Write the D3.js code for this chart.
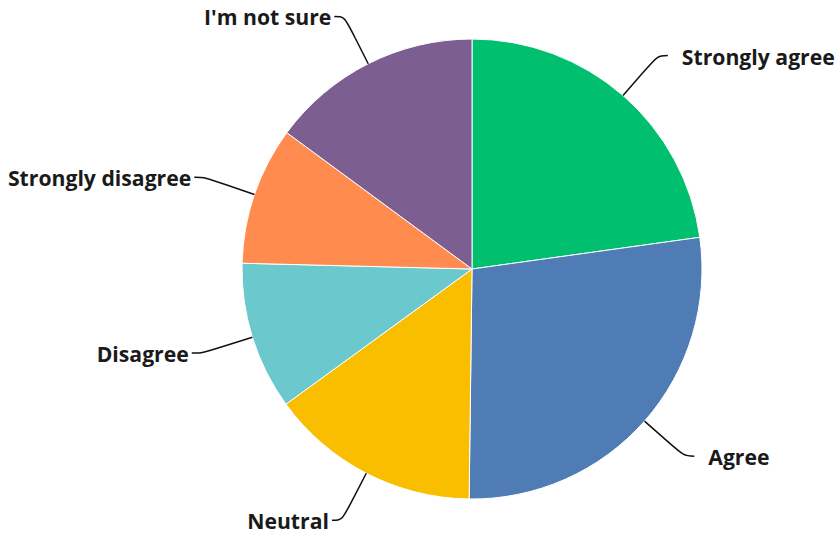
<!DOCTYPE html>
<html>
<head>
<meta charset="utf-8">
<script src="https://cdn.jsdelivr.net/npm/d3@7"></script>
<style>
  html, body { margin: 0; padding: 0; background: #fff; }
  svg { display: block; }
  .label { font-family: "Open Sans", "Noto Sans", sans-serif; font-weight: 700; font-size: 21.2px; fill: #1a1a1a; }
</style>
</head>
<body>
<svg id="chart" width="840" height="537"></svg>
<script>
// Survey answers (percent of responses), clockwise from 12 o'clock
const categories = ["Strongly agree", "Agree", "Neutral", "Disagree", "Strongly disagree", "I'm not sure"];
const values = [22.8, 27.4, 14.8, 10.4, 9.7, 14.9];
const colors = ["#00BF6F", "#507CB6", "#F9BE00", "#6BC8CD", "#FF8B4F", "#7D5E90"];

const width = 840, height = 537;
const cx = 472, cy = 269, radius = 230;
const labelRadius = 283;

const svg = d3.select("#chart");
const g = svg.append("g").attr("transform", `translate(${cx},${cy})`);

const data = categories.map((c, i) => ({ name: c, value: values[i], color: colors[i] }));

const pie = d3.pie().value(d => d.value).sort(null);
const arc = d3.arc().innerRadius(0).outerRadius(radius);
const arcs = pie(data);

g.selectAll("path.slice")
  .data(arcs)
  .join("path")
  .attr("class", "slice")
  .attr("d", arc)
  .attr("fill", d => d.data.color)
  .attr("stroke", "#fff")
  .attr("stroke-width", 1);

// Connectors: from slice edge outwards, bending into a short horizontal end
arcs.forEach(d => {
  const a = (d.startAngle + d.endAngle) / 2;
  const sx = Math.sin(a), sy = -Math.cos(a);
  const side = sx >= 0 ? 1 : -1;
  const e = [sx * radius, sy * radius];
  const b = [sx * labelRadius, sy * labelRadius];
  const end = [b[0] + side * 10, b[1]];
  const mid = [sx * (radius + (labelRadius - radius) * 0.55), sy * (radius + (labelRadius - radius) * 0.55)];
  const path = d3.path();
  path.moveTo(e[0], e[1]);
  path.lineTo(mid[0], mid[1]);
  path.bezierCurveTo(b[0], b[1], b[0], b[1], end[0], end[1]);
  g.append("path")
    .attr("d", path.toString())
    .attr("fill", "none")
    .attr("stroke", "#111")
    .attr("stroke-width", 1.5);

  g.append("text")
    .attr("class", "label")
    .attr("x", end[0] + (side > 0 ? 14 : -3))
    .attr("y", end[1] + 9)
    .attr("text-anchor", side > 0 ? "start" : "end")
    .text(d.data.name);
});
</script>
</body>
</html>
